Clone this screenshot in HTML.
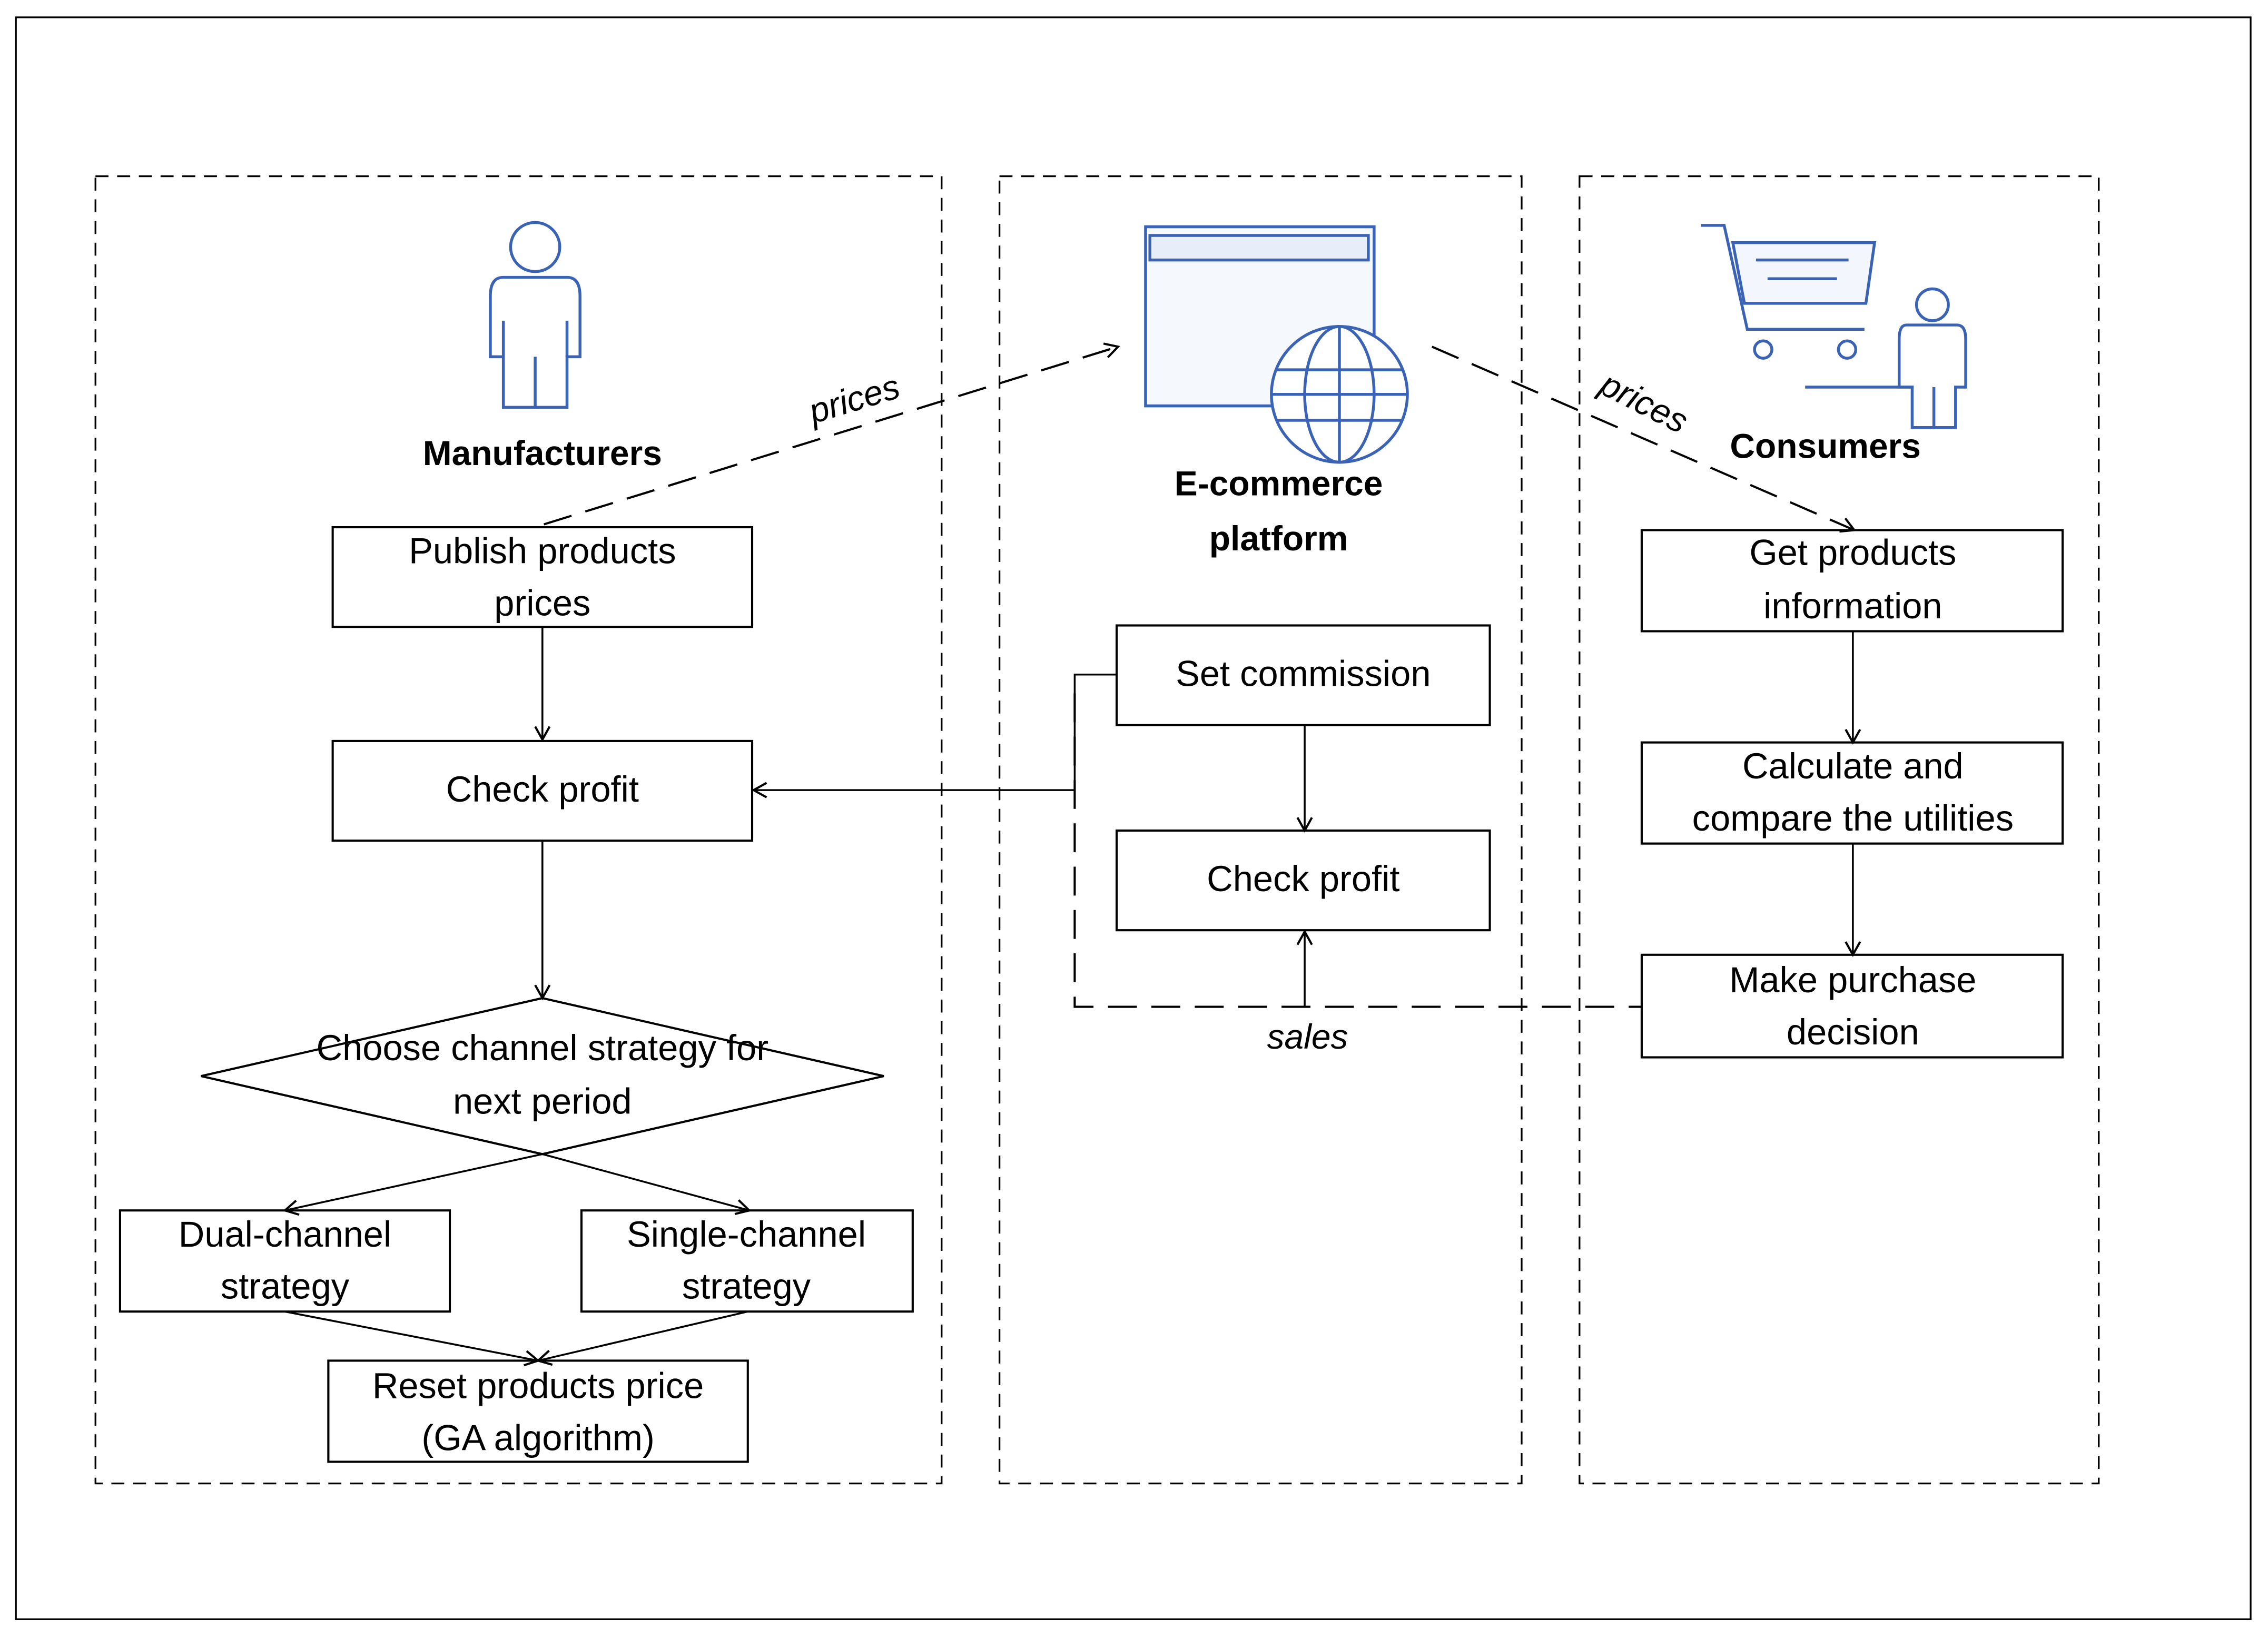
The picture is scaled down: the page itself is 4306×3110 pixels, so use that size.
<!DOCTYPE html>
<html><head><meta charset="utf-8"><style>
html,body{margin:0;padding:0;background:#fff}
svg{display:block}
text{font-family:"Liberation Sans","DejaVu Sans",sans-serif}
</style></head><body>
<svg width="4306" height="3110" viewBox="0 0 1568 1134" preserveAspectRatio="none" xmlns="http://www.w3.org/2000/svg">
<defs>
<marker id="a" markerWidth="12" markerHeight="12" refX="10" refY="6" orient="auto" markerUnits="userSpaceOnUse">
<path d="M1,1 L10,6 L1,11" fill="none" stroke="#000" stroke-width="1.5"/></marker>
</defs>
<rect x="11" y="12" width="1545" height="1109" fill="#fff" stroke="#000" stroke-width="1.2"/>
<g fill="none" stroke="#000" stroke-width="1.2" stroke-dasharray="9,6">
<rect x="66" y="122" width="585" height="905"/>
<rect x="691" y="122" width="361" height="905"/>
<rect x="1092" y="122" width="359" height="905"/>
</g>
<g fill="#fff" stroke="#3b63b5" stroke-width="2">
<ellipse cx="370" cy="171" rx="17" ry="17"/>
<path d="M348,192 H392 Q401,192 401,205 V247 H392 V282 H348 V247 H339 V205 Q339,192 348,192 Z"/>
<line x1="370" y1="247" x2="370" y2="282"/><line x1="348" y1="247" x2="348" y2="222"/><line x1="392" y1="247" x2="392" y2="222"/>
<rect x="792" y="157" width="158" height="124" fill="#f5f8fd"/>
<rect x="795" y="163" width="151" height="17" fill="#e8eef9"/>
<circle cx="926" cy="273" r="47"/>
<ellipse cx="926" cy="273" rx="24" ry="47"/>
<line x1="926" y1="226" x2="926" y2="320"/>
<line x1="882" y1="256" x2="970" y2="256"/><line x1="879" y1="273" x2="973" y2="273"/><line x1="883" y1="291" x2="969" y2="291"/>
<path d="M1176,156 H1192 L1208,228 H1289" fill="none"/>
<path d="M1198,168 H1296 L1290,210 H1206 Z" fill="#f3f6fc"/>
<line x1="1214" y1="180" x2="1278" y2="180"/><line x1="1222" y1="193" x2="1270" y2="193"/>
<circle cx="1219" cy="242" r="6"/><circle cx="1277" cy="242" r="6"/>
<circle cx="1336" cy="211" r="11"/>
<path d="M1318,225 H1353 Q1359,225 1359,235 V268 H1352 V296 H1322 V268 H1313 V235 Q1313,225 1318,225 Z"/>
<line x1="1248" y1="268" x2="1323" y2="268"/><line x1="1337" y1="268" x2="1337" y2="296"/>
</g>
<g font-weight="bold" font-size="24" text-anchor="middle" fill="#000">
<text x="375" y="322">Manufacturers</text>
<text x="884" y="343">E-commerce</text>
<text x="884" y="381">platform</text>
<text x="1262" y="317">Consumers</text>
</g>
<g fill="#fff" stroke="#000" stroke-width="1.5">
<rect x="230" y="365" width="290" height="69"/>
<rect x="230" y="513" width="290" height="69"/>
<path d="M375,691 L611,745 L375,799 L139,745 Z"/>
<rect x="83" y="838" width="228" height="70"/>
<rect x="402" y="838" width="229" height="70"/>
<rect x="227" y="942" width="290" height="70"/>
<rect x="772" y="433" width="258" height="69"/>
<rect x="772" y="575" width="258" height="69"/>
<rect x="1135" y="367" width="291" height="70"/>
<rect x="1135" y="514" width="291" height="70"/>
<rect x="1135" y="661" width="291" height="71"/>
</g>
<g fill="none" stroke="#000" stroke-width="1.3">
<line x1="375" y1="434" x2="375" y2="512" marker-end="url(#a)"/>
<line x1="375" y1="582" x2="375" y2="691" marker-end="url(#a)"/>
<line x1="375" y1="799" x2="197" y2="838" marker-end="url(#a)"/>
<line x1="375" y1="799" x2="518" y2="838" marker-end="url(#a)"/>
<line x1="197" y1="908" x2="372" y2="942" marker-end="url(#a)"/>
<line x1="517" y1="908" x2="372" y2="942" marker-end="url(#a)"/>
<line x1="902" y1="502" x2="902" y2="575" marker-end="url(#a)"/>
<polyline points="772,467 743,467 743,547 521,547" marker-end="url(#a)"/>
<line x1="902" y1="697" x2="902" y2="645" marker-end="url(#a)"/>
<line x1="1281" y1="437" x2="1281" y2="514" marker-end="url(#a)"/>
<line x1="1281" y1="584" x2="1281" y2="661" marker-end="url(#a)"/>
</g>
<g fill="none" stroke="#000" stroke-width="1.5" stroke-dasharray="20,10">
<polyline points="743,480 743,697 1135,697"/>
<line x1="376" y1="363" x2="773" y2="240" marker-end="url(#a)"/>
<line x1="990" y1="240" x2="1282" y2="367" marker-end="url(#a)"/>
</g>
<g font-size="25" text-anchor="middle" fill="#000">
<text x="375" y="390">Publish products</text><text x="375" y="426">prices</text>
<text x="375" y="555">Check profit</text>
<text x="375" y="734">Choose channel strategy for</text><text x="375" y="771">next period</text>
<text x="197" y="863">Dual-channel</text><text x="197" y="899">strategy</text>
<text x="516" y="863">Single-channel</text><text x="516" y="899">strategy</text>
<text x="372" y="968">Reset products price</text><text x="372" y="1004">(GA algorithm)</text>
<text x="901" y="475">Set commission</text>
<text x="901" y="617">Check profit</text>
<text x="1281" y="391">Get products</text><text x="1281" y="428">information</text>
<text x="1281" y="539">Calculate and</text><text x="1281" y="575">compare the utilities</text>
<text x="1281" y="687">Make purchase</text><text x="1281" y="723">decision</text>
<g font-style="italic" font-size="24">
<text x="904" y="726">sales</text>
<text x="593" y="284" transform="rotate(-17 593 284)">prices</text>
<text x="1133" y="286" transform="rotate(27 1133 286)">prices</text>
</g>
</g>
</svg>
</body></html>
